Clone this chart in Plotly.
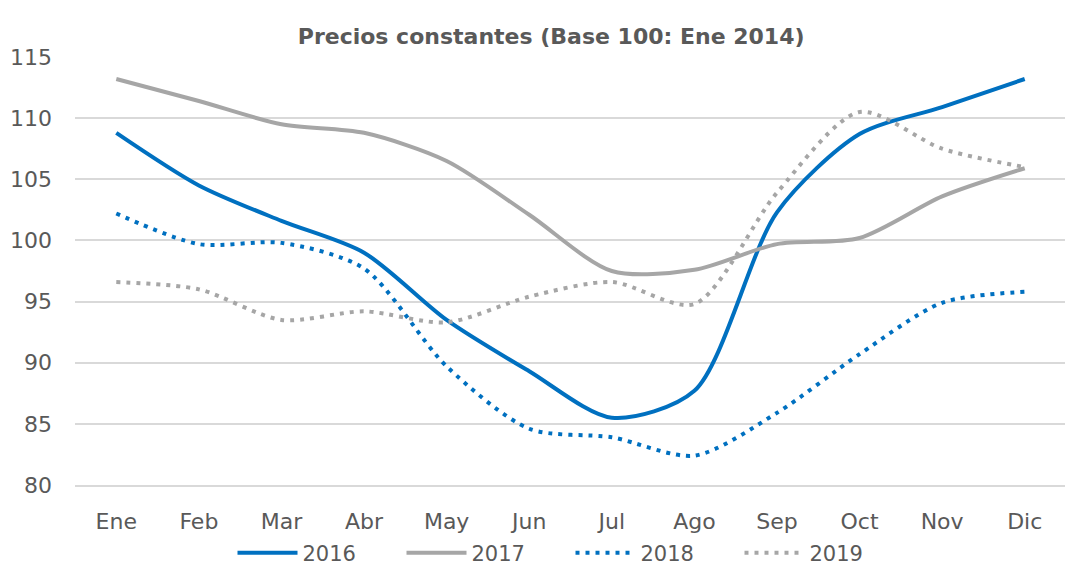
import plotly.graph_objects as go

# Month labels
months = ['Ene', 'Feb', 'Mar', 'Abr', 'May', 'Jun', 'Jul', 'Ago', 'Sep', 'Oct', 'Nov', 'Dic']

# Index values (Base 100: Ene 2014)
y2016 = [108.8, 104.5, 101.6, 99.0, 93.5, 89.3, 85.5, 87.7, 102.3, 108.7, 110.9, 113.2]
y2017 = [113.2, 111.4, 109.5, 108.8, 106.5, 102.1, 97.5, 97.6, 99.7, 100.2, 103.6, 105.9]
y2018 = [102.2, 99.7, 99.8, 97.7, 89.7, 84.6, 83.9, 82.4, 85.9, 90.7, 94.9, 95.8]
y2019 = [96.6, 96.0, 93.5, 94.2, 93.3, 95.4, 96.6, 94.8, 103.9, 110.5, 107.5, 106.0]

BLUE = '#0070C0'
GREY = '#A6A6A6'
TEXT = '#595959'
GRID = '#D9D9D9'
FONT = 'DejaVu Sans'


def build_figure():
    fig = go.Figure()

    series = [
        ('2016', y2016, BLUE, 'solid'),
        ('2017', y2017, GREY, 'solid'),
        ('2018', y2018, BLUE, '4px,6px'),
        ('2019', y2019, GREY, '4px,6px'),
    ]
    for name, values, color, dash in series:
        fig.add_trace(go.Scatter(
            x=months,
            y=values,
            name=name,
            mode='lines',
            line=dict(color=color, width=4, dash=dash, shape='spline', smoothing=0.8),
        ))

    # page body has an 8px margin, so the figure is a bit smaller than the window
    fig.update_layout(
        width=1065,
        height=562,
        margin=dict(l=67, r=7, t=49, b=85, autoexpand=False),
        plot_bgcolor='white',
        paper_bgcolor='white',
        font=dict(family=FONT, color=TEXT, size=21),
        title=dict(
            text='<b>Precios constantes (Base 100: Ene 2014)</b>',
            x=0.51, xanchor='center',
            y=0.95, yanchor='middle',
            font=dict(family=FONT, size=22, color=TEXT),
        ),
        xaxis=dict(
            range=[-0.5, 11.5],
            showgrid=False,
            showline=True,
            linecolor=GRID,
            linewidth=1.5,
            ticks='',
            ticklabelstandoff=16,
            tickfont=dict(size=22, color=TEXT),
        ),
        yaxis=dict(
            range=[80, 115],
            dtick=5,
            showgrid=True,
            gridcolor=GRID,
            gridwidth=1.5,
            zeroline=False,
            showline=False,
            ticks='',
            ticklabelstandoff=22,
            tickfont=dict(size=22, color=TEXT),
        ),
        showlegend=True,
        legend=dict(
            orientation='h',
            x=0.5, xanchor='center',
            yref='container',
            y=0.03, yanchor='middle',
            bgcolor='rgba(0,0,0,0)',
            font=dict(size=21, color=TEXT),
            itemwidth=60,
            entrywidth=94,
        ),
    )
    return fig


def main():
    fig = build_figure()
    fig.write_html('out.html')


if __name__ == '__main__':
    main()
